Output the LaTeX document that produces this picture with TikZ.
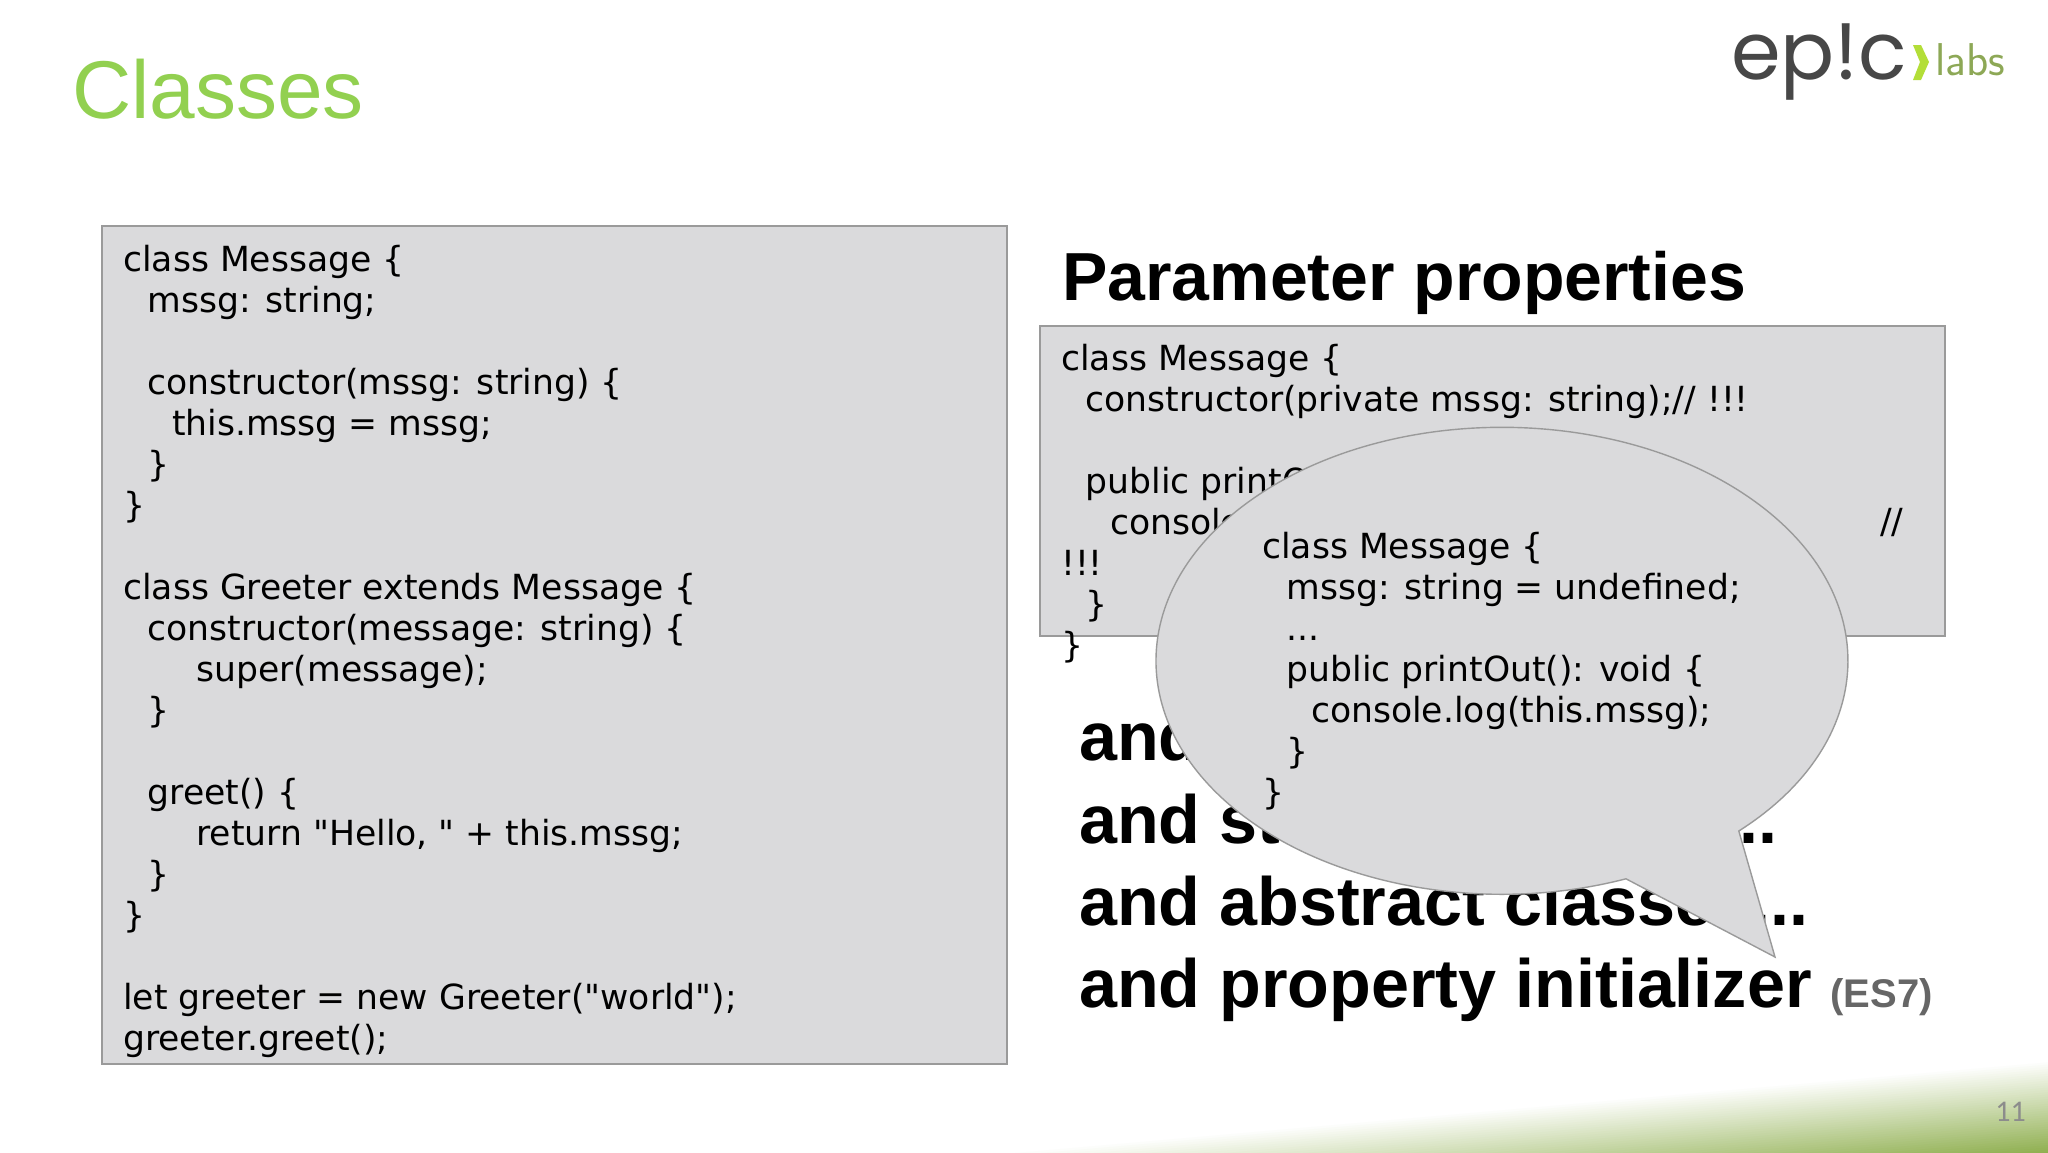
\documentclass[tikz,border=0pt]{standalone}
\usepackage{fontspec}
\setmainfont{Liberation Sans}
\newfontfamily\codefont{DejaVu Sans}
\newfontfamily\logofont{Poppins}
\newfontfamily\numfont{Carlito}
\definecolor{grn}{HTML}{92D050}
\definecolor{boxg}{HTML}{DADADC}
\definecolor{edge}{HTML}{9A9A9A}
\definecolor{swoosh}{HTML}{8FAF4F}
\newcommand\ii{\hspace*{24.4pt}}
\tikzset{x=1pt,y=-1pt,
codebox/.style={fill=boxg,draw=edge,line width=1.4pt},
code/.style={font=\codefont\fontsize{34.6}{41}\selectfont,anchor=north west,inner sep=0pt,align=left},
big/.style={font=\fontsize{68.3}{82.3}\selectfont\bfseries,anchor=north west,inner sep=0pt,align=left}}
\begin{document}
\begin{tikzpicture}
\useasboundingbox (0,0) rectangle (2048,1152);
\fill[white] (0,0) rectangle (2048,1152);
\begin{scope}
\clip (900,1040) rectangle (2048,1152);
\foreach \n in {0,...,40}{
  \pgfmathsetmacro{\dd}{\n*2.3}
  \pgfmathsetmacro{\pp}{\n*2.5}
  \fill[swoosh!\pp!white] (800,{1169.6+\dd}) -- (2048,{1060+\dd}) -- (2048,1300) -- (800,1300) -- cycle;
}
\end{scope}
\node[anchor=west,inner sep=0pt,text=grn,font=\fontsize{82}{90}\selectfont] (title) at (72,89) {Classes};
\node[anchor=west,inner sep=0pt,text=black!72,font=\logofont\fontsize{80}{90}\selectfont] (logo) at (1731,62) {ep!c};
\fill[grn!70!yellow] (1913,45) -- (1921,45) -- (1929,62) -- (1921,80) -- (1913,80) -- (1920,62) -- cycle;
\node[anchor=west,inner sep=0pt,text=swoosh!85!gray,font=\sffamily\fontsize{46}{50}\selectfont] (labs) at (1935,60) {labs};
\draw[codebox] (102,226) rectangle (1007,1064);
\node[code] (c1) at (123,245) {class Message \{\\
\ii mssg: string;\\
\strut\\
\ii constructor(mssg: string) \{\\
\ii\ii this.mssg = mssg;\\
\ii \}\\
\}\\
\strut\\
class Greeter extends Message \{\\
\ii constructor(message: string) \{\\
\ii\ii\ii super(message);\\
\ii \}\\
\strut\\
\ii greet() \{\\
\ii\ii\ii return "Hello, " + this.mssg;\\
\ii \}\\
\}\\
\strut\\
let greeter = new Greeter("world");\\
greeter.greet();};
\node[anchor=west,inner sep=0pt,font=\fontsize{68}{72}\selectfont\bfseries] (pp) at (1062,283) {Parameter properties};
\draw[codebox] (1040,326) rectangle (1945,636);
\node[code] (c2) at (1061,344) {class Message \{\\
\ii constructor(private mssg: string);// !!!\\
\strut\\
\ii public printOut(): void \{\\
\ii\ii console.log(this.mssg);\\
!!!\\
\ii \}\\
\}};
\node[code] (c2b) at (1880,508) {//};
\node[big] (more) at (1079,711) {and modules...\\and static members...\\and abstract classes...\\and property initializer {\fontsize{40}{40}\selectfont\color{black!60} (ES7)}};
\coordinate (tailA) at (1738.8,831);
\coordinate (tailTip) at (1775,957);
\draw[fill=boxg,draw=edge,line width=1.4pt] (tailA) arc[start angle=46.8,end angle=-291,x radius=346,y radius=233.5] -- (tailTip) -- cycle;
\node[code] (c3) at (1262,532) {class Message \{\\
\ii mssg: string = undefined;\\
\ii ...\\
\ii public printOut(): void \{\\
\ii\ii console.log(this.mssg);\\
\ii \}\\
\}};
\node[anchor=east,inner sep=0pt,text=black!45,font=\numfont\fontsize{30}{32}\selectfont] (num) at (2026,1112) {11};
\end{tikzpicture}
\end{document}
